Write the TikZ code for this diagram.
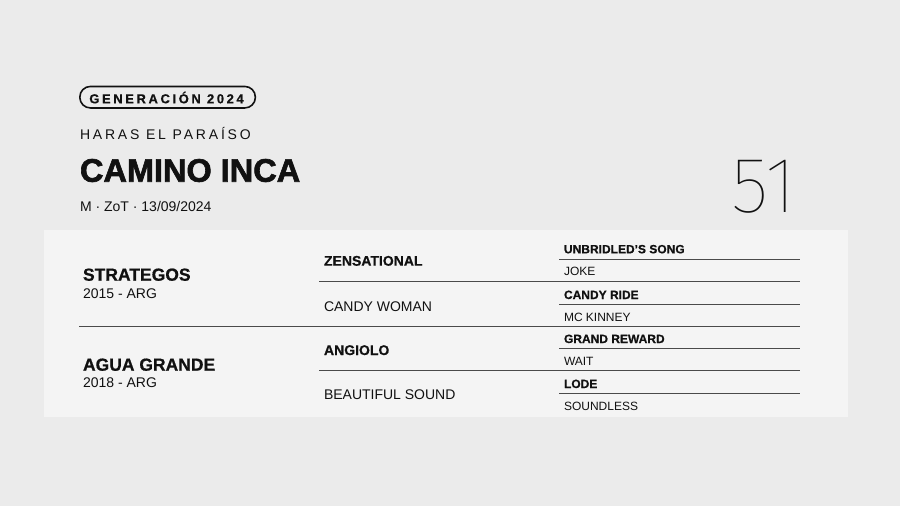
\documentclass[tikz,border=0pt]{standalone}
\usepackage{fontspec}
\setmainfont{Liberation Sans}[BoldFeatures={FakeBold=0.6}]
\newfontfamily\spacedfont{Liberation Sans}[LetterSpace=20, BoldFeatures={FakeBold=0.6}]
\newfontfamily\heavyfont{Liberation Sans Bold}[FakeBold=2]
\IfFontExistsTF{FiraSans-Thin.otf}{\newfontfamily\thinfont{FiraSans-Thin.otf}}{%
  \IfFontExistsTF{Fira Sans Thin}{\newfontfamily\thinfont{Fira Sans Thin}}{\newfontfamily\thinfont{Liberation Sans}}}
\definecolor{bgc}{HTML}{EBEBEB}
\definecolor{panelc}{HTML}{F4F4F4}
\definecolor{ink}{HTML}{111111}
\definecolor{rulec}{HTML}{4A4A4A}
\newcommand{\fsz}[1]{\fontsize{#1}{#1}\selectfont}
\tikzset{
  lbl/.style={inner sep=0pt, outer sep=0pt, anchor=base west, text=ink},
  sire/.style={lbl, font=\fsz{12}\bfseries},
  dam/.style={lbl, font=\fsz{12}},
  rule/.style={draw=rulec, line width=1pt},
}
\begin{document}
\begin{tikzpicture}[x=1pt,y=-1pt]
\fill[bgc] (0,0) rectangle (900,506);
\useasboundingbox (0,0) rectangle (900,506);
\fill[panelc] (44,230) rectangle (848,416.5);

% header
\node[draw=ink, line width=1.6pt, rounded corners=10.5pt, minimum width=175.5pt, minimum height=21.5pt, inner sep=0pt] (pill) at (167.6,97.2) {};
\node[lbl, font=\spacedfont\fsz{13}\bfseries] (gen) at (89.3,103.3) {GENERACIÓN 2024};
\node[lbl, font=\spacedfont\fsz{14}] (haras) at (80,139.3) {HARAS EL PARAÍSO};
\node[lbl, font=\heavyfont\fsz{32.5}] (camino) at (80,181.7) {CAMINO INCA};
\node[lbl, font=\fsz{14}] (meta) at (80,211) {M · ZoT · 13/09/2024};
\node[lbl, anchor=base east, font=\thinfont\fsz{79}] (num) at (796,212.7) {51};

% rules
\draw[rule] (79,326) -- (800,326);
\draw[rule] (319,281.7) -- (800,281.7);
\draw[rule] (319,370.7) -- (800,370.7);
\foreach \yy in {259.3,304,348.3,393.3} \draw[rule] (559,\yy) -- (800,\yy);

% column 1
\node[lbl, font=\fsz{17.5}\bfseries] (strat) at (83,280.7) {STRATEGOS};
\node[lbl, font=\fsz{14}] (syear) at (83,298.3) {2015 - ARG};
\node[lbl, font=\fsz{17.5}\bfseries] (agua) at (83,370.7) {AGUA GRANDE};
\node[lbl, font=\fsz{14}] (ayear) at (83,387.7) {2018 - ARG};

% column 2
\node[lbl, font=\fsz{14}\bfseries] (zen) at (324,265.7) {ZENSATIONAL};
\node[lbl, font=\fsz{14}] (candyw) at (324,311) {CANDY WOMAN};
\node[lbl, font=\fsz{14}\bfseries] (angiolo) at (324,355) {ANGIOLO};
\node[lbl, font=\fsz{14}] (beaut) at (324,399.7) {BEAUTIFUL SOUND};

% column 3
\node[sire] (ubs) at (564,253.3) {UNBRIDLED\char39 S SONG};
\node[dam] (joke) at (564,275.7) {JOKE};
\node[sire] (cride) at (564,299) {CANDY RIDE};
\node[dam] (mck) at (564,321) {MC KINNEY};
\node[sire] (grw) at (564,343) {GRAND REWARD};
\node[dam] (wait) at (564,365.3) {WAIT};
\node[sire] (lode) at (564,388) {LODE};
\node[dam] (sndl) at (564,410) {SOUNDLESS};
\end{tikzpicture}
\end{document}
